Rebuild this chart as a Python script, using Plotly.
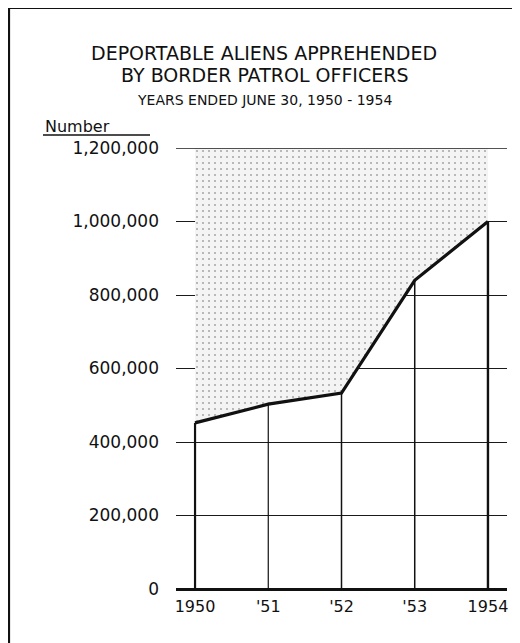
import plotly.graph_objects as go

years = [1950, 1951, 1952, 1953, 1954]
year_labels = ["1950", "'51", "'52", "'53", "1954"]
apprehended = [452000, 503000, 533000, 840000, 1000000]
y_ticks = [0, 200000, 400000, 600000, 800000, 1000000, 1200000]
y_tick_labels = ["0", "200,000", "400,000", "600,000", "800,000", "1,000,000", "1,200,000"]
y_max = 1200000
drop_widths = [2.2, 1.2, 1.5, 1.5, 2.4]

# page offset (browser body margin)
OFF = 8
W, H = 520 - OFF, 643 - OFF
ML, MR, MT, MB = 176 - OFF, 13, 148 - OFF, 54
PW, PH = W - ML - MR, H - MT - MB

def px_x(x):
    return (x - OFF - ML) / PW

def px_y(y):
    return (H - MB - (y - OFF)) / PH

fig = go.Figure()

# stippled region above the line
fig.add_trace(go.Scatter(x=years, y=[y_max] * len(years), mode="lines",
                         line=dict(width=0, color="rgba(0,0,0,0)"),
                         hoverinfo="skip", showlegend=False))
fig.add_trace(go.Scatter(x=years, y=apprehended, mode="lines", fill="tonexty",
                         fillcolor="rgba(0,0,0,0)",
                         fillpattern=dict(shape=".", fgcolor="#5f5f5f", bgcolor="#f4f4f4",
                                          size=6, solidity=0.1),
                         line=dict(width=0, color="rgba(0,0,0,0)"),
                         hoverinfo="skip", showlegend=False))

# vertical drop lines
for x, y, w in zip(years, apprehended, drop_widths):
    fig.add_trace(go.Scatter(x=[x, x], y=[0, y], mode="lines",
                             line=dict(color="#111111", width=w),
                             hoverinfo="skip", showlegend=False))

# main line
fig.add_trace(go.Scatter(x=years, y=apprehended, mode="lines",
                         line=dict(color="#111111", width=3.2),
                         showlegend=False))

font_family = "DejaVu Sans"

annotations = [
    dict(text="DEPORTABLE ALIENS APPREHENDED", x=px_x(264), y=px_y(53),
         font=dict(size=19)),
    dict(text="BY BORDER PATROL OFFICERS", x=px_x(264), y=px_y(75),
         font=dict(size=19)),
    dict(text="YEARS ENDED JUNE 30, 1950 - 1954", x=px_x(264), y=px_y(100),
         font=dict(size=14)),
    dict(text="Number", x=px_x(43), y=px_y(126), xanchor="left",
         font=dict(size=16)),
]
for a in annotations:
    a.update(xref="paper", yref="paper", showarrow=False,
             yanchor="middle", xanchor=a.get("xanchor", "center"))
    a["font"].update(family=font_family, color="#111111")

shapes = [
    # "Number" underline
    dict(type="line", xref="paper", yref="paper", x0=px_x(43), x1=px_x(150),
         y0=px_y(135), y1=px_y(135), line=dict(color="#111111", width=1.6)),
    # top gridline
    dict(type="line", xref="paper", yref="y", x0=0, x1=1,
         y0=y_max, y1=y_max, line=dict(color="#1a1a1a", width=1.4)),
    # frame
    dict(type="line", xref="paper", yref="paper", x0=px_x(9), x1=px_x(9),
         y0=px_y(8), y1=px_y(650), line=dict(color="#111111", width=2.2)),
    dict(type="line", xref="paper", yref="paper", x0=px_x(9), x1=px_x(516),
         y0=px_y(8), y1=px_y(8), line=dict(color="#111111", width=2)),
    dict(type="line", xref="paper", yref="paper", x0=px_x(516), x1=px_x(516),
         y0=px_y(8), y1=px_y(258), line=dict(color="#111111", width=2)),
]

fig.update_layout(
    width=W, height=H,
    margin=dict(l=ML, r=MR, t=MT, b=MB),
    paper_bgcolor="white", plot_bgcolor="white",
    annotations=annotations, shapes=shapes,
    font=dict(family=font_family, color="#111111"),
    xaxis=dict(range=[1949.74, 1954.26], tickvals=years, ticktext=year_labels,
               showgrid=False, zeroline=False, showline=False,
               ticks="", tickfont=dict(size=16, family=font_family),
               ticklabelstandoff=6, fixedrange=True),
    yaxis=dict(range=[0, y_max], tickvals=y_ticks, ticktext=y_tick_labels,
               showgrid=True, gridcolor="#1a1a1a", gridwidth=1.4,
               zeroline=True, zerolinecolor="#111111", zerolinewidth=2.6,
               showline=False, ticks="", tickfont=dict(size=17, family=font_family),
               ticklabelstandoff=16, fixedrange=True),
    showlegend=False,
)

fig.write_html("out.html")
